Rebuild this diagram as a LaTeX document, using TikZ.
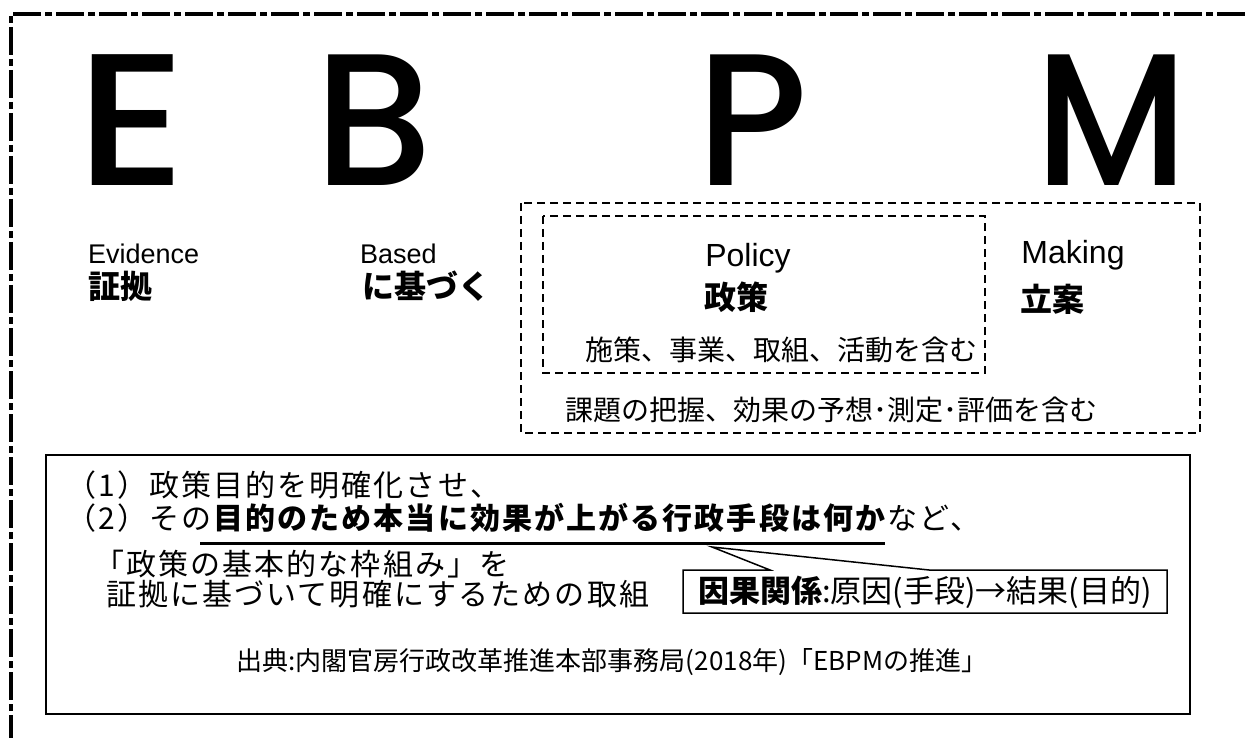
\documentclass[tikz,border=0pt]{standalone}
\usepackage{fontspec}
\setmainfont{Noto Sans CJK JP}
\newfontfamily\bigfont{Poppins}[UprightFont={* Medium}]
\newfontfamily\latinfont{Liberation Sans}
\newcommand{\spaced}{\addfontfeature{LetterSpace=7}}
\begin{document}
\begin{tikzpicture}[x=1pt,y=-1pt,
  bigletter/.style={inner sep=0pt,anchor=base,text depth=0pt,font=\bigfont\fontsize{188}{188}\selectfont},
  enword/.style={inner sep=0pt,anchor=west,font=\latinfont\fontsize{27}{27}\selectfont},
  enbig/.style={inner sep=0pt,anchor=center,font=\latinfont\fontsize{32}{32}\selectfont},
  jpword/.style={inner sep=0pt,anchor=west,font=\bfseries\fontsize{32}{32}\selectfont},
  jpline/.style={inner sep=0pt,anchor=west,font=\fontsize{28}{28}\selectfont},
  bodyline/.style={inner sep=0pt,anchor=west,font=\fontsize{30}{30}\selectfont\spaced},
  dbox/.style={draw,line width=1.5pt,dash pattern=on 8pt off 5pt},
  frame/.style={line width=4.2pt,dash pattern=on 28pt off 4pt on 7pt off 4pt}]
\useasboundingbox (0,0) rectangle (1245,738);
% outer frame
\draw[frame] (1245,14) -- (11,14) -- (11,738);
% big letters
\node[bigletter] (E) at (132,186) {\scalebox{1.12}[1]{E}};
\node[bigletter] (B) at (374,186) {B};
\node[bigletter] (P) at (752,186) {P};
\node[bigletter] (M) at (1112,186) {\scalebox{0.92}[1]{M}};
% dashed boxes
\draw[dbox] (521,203) rectangle (1200,433);
\draw[dbox] (543,216) rectangle (985,373);
% words
\node[enword] (ev) at (88,254) {Evidence};
\node[jpword] (evj) at (88,286) {証拠};
\node[enword] (ba) at (360,254) {Based};
\node[jpword] (baj) at (362,286) {に基づく};
\node[enbig] (po) at (748,258) {Policy};
\node[jpword,anchor=center] (poj) at (736,297) {政策};
\node[jpline] (pol) at (585,350) {施策、事業、取組、活動を含む};
\node[enbig] (ma) at (1073,255) {Making};
\node[jpword,anchor=center] (maj) at (1052,299) {立案};
\node[jpline] (mal) at (565,410) {課題の把握、効果の予想･測定･評価を含む};
% bottom box
\draw[line width=1.5pt] (46,455) rectangle (1190,714);
\node[bodyline] (l1) at (66,485) {（1）政策目的を明確化させ、};
\node[bodyline] (l2) at (66,518) {（2）その\textbf{\spaced 目的のため本当に効果が上がる行政手段は何か}など、};
\node[bodyline] (l3) at (94,564) {「政策の基本的な枠組み」を};
\node[bodyline] (l4) at (106,594) {証拠に基づいて明確にするための取組};
\coordinate (ul1) at (200,543);
\coordinate (ul2) at (885,543);
\draw[line width=3pt] (ul1) -- (ul2);
% callout
\coordinate (tip) at (712,547);
\draw[line width=1.5pt,fill=white] (770,570) -- (tip) -- (929,570) -- (1167,570) -- (1167,613) -- (683,613) -- (683,570) -- cycle;
\node[bodyline,font=\fontsize{31}{31}\selectfont] (cal) at (698,592) {\textbf{因果関係}:原因(手段)→結果(目的)};
\node[jpline,anchor=center,font=\fontsize{26}{26}\selectfont] (src) at (612,662) {出典:内閣官房行政改革推進本部事務局(2018年)「EBPMの推進」};
\end{tikzpicture}
\end{document}
